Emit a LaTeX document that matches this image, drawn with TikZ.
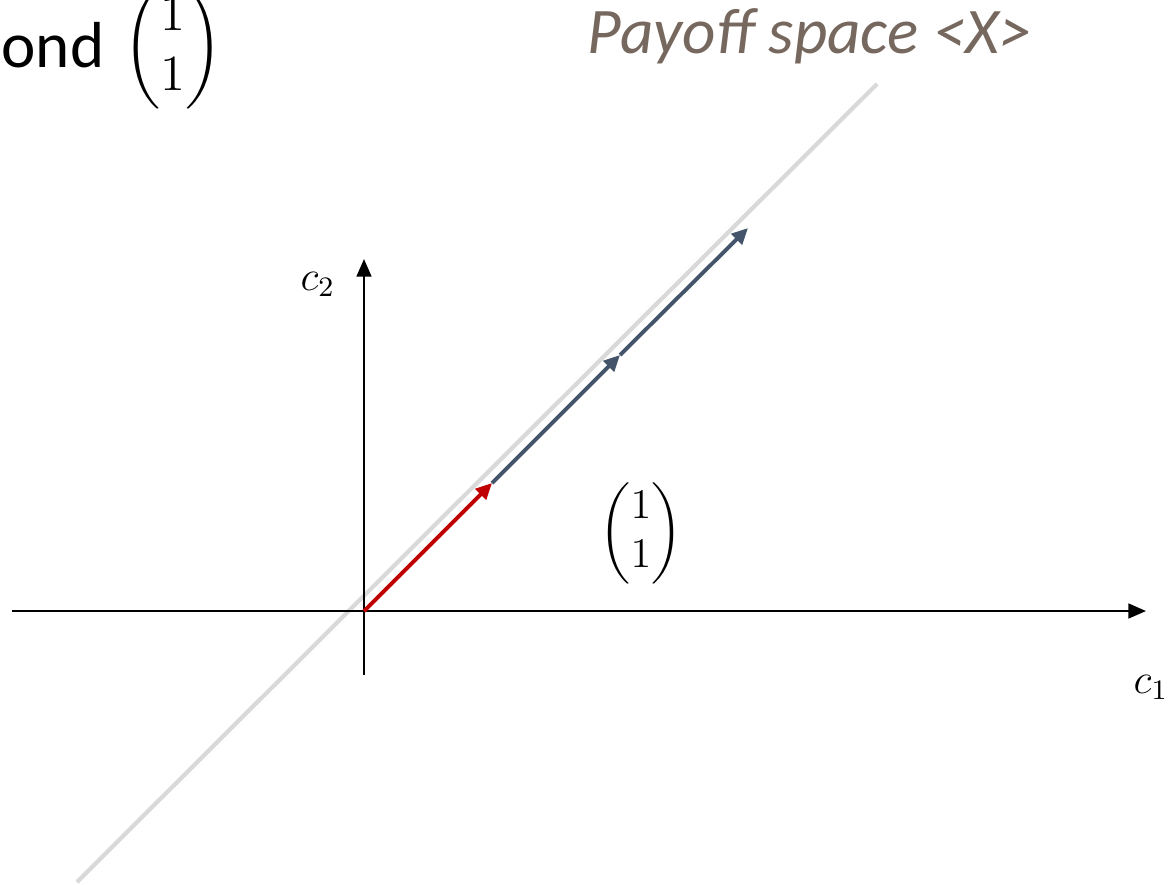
\documentclass[tikz,border=0pt]{standalone}
\usepackage{amsmath}
\usepackage{fontspec}
\setmainfont{Carlito}
\usetikzlibrary{arrows.meta,positioning}

\definecolor{linegray}{HTML}{D9D9D9}
\definecolor{firstred}{HTML}{C00000}
\definecolor{nextslate}{HTML}{44546A}
\definecolor{titlebrown}{RGB}{118,104,94}

\begin{document}
\begin{tikzpicture}[x=0.01cm, y=-0.01cm,
    axis/.style={-{Triangle[length=5pt,width=4.2pt]}, line width=0.6pt},
    vec/.style={-{Triangle[length=4.6pt,width=4.2pt]}, line width=1.1pt},
    every node/.style={inner sep=0pt}]
    % Frame
    \useasboundingbox (0,0) rectangle (1170,884);
    \clip (0,0) rectangle (1170,884);

    % Points
    \coordinate (O) at (364,611);
    \coordinate (p1) at (492,483);
    \coordinate (p2) at (620,355);
    \coordinate (p3) at (748,228);
    \coordinate (gs) at (77,882);
    \coordinate (ge) at (877,84);
    \coordinate (xs) at (12,611);
    \coordinate (xe) at (1146,611);
    \coordinate (ys) at (364,675);
    \coordinate (ye) at (364,259);

    % Payoff space line
    \draw[linegray, line width=1.2pt] (gs) -- (ge);

    % Axes
    \draw[axis] (xs) -- (xe);
    \draw[axis] (ys) -- (ye);
    \node[anchor=base west] (c1) at (1133,693) {\large $c_1$};
    \node[anchor=base west] (c2) at (300,290) {\large $c_2$};

    % Steps along the diagonal
    \draw[vec, firstred] (O) -- (p1);
    \draw[vec, nextslate] (p1) -- (p2);
    \draw[vec, nextslate] (p2) -- (p3);

    % Direction vector
    \node (dir) at (641,533) {\fontsize{11.5}{14}\selectfont $\begin{pmatrix}1\\1\end{pmatrix}$};

    % Titles
    \node[anchor=base west, text=titlebrown, font=\fontsize{18.5}{22}\selectfont\itshape] (title) at (587,53) {Payoff space <X>};
    \node[anchor=base west, font=\fontsize{18.5}{22}\selectfont] (ond) at (1,67) {ond};
    \node[right=5pt of ond.east, anchor=west, yshift=-1pt] (ondvec) {\fontsize{14}{17}\selectfont $\begin{pmatrix}1\\1\end{pmatrix}$};
\end{tikzpicture}
\end{document}
